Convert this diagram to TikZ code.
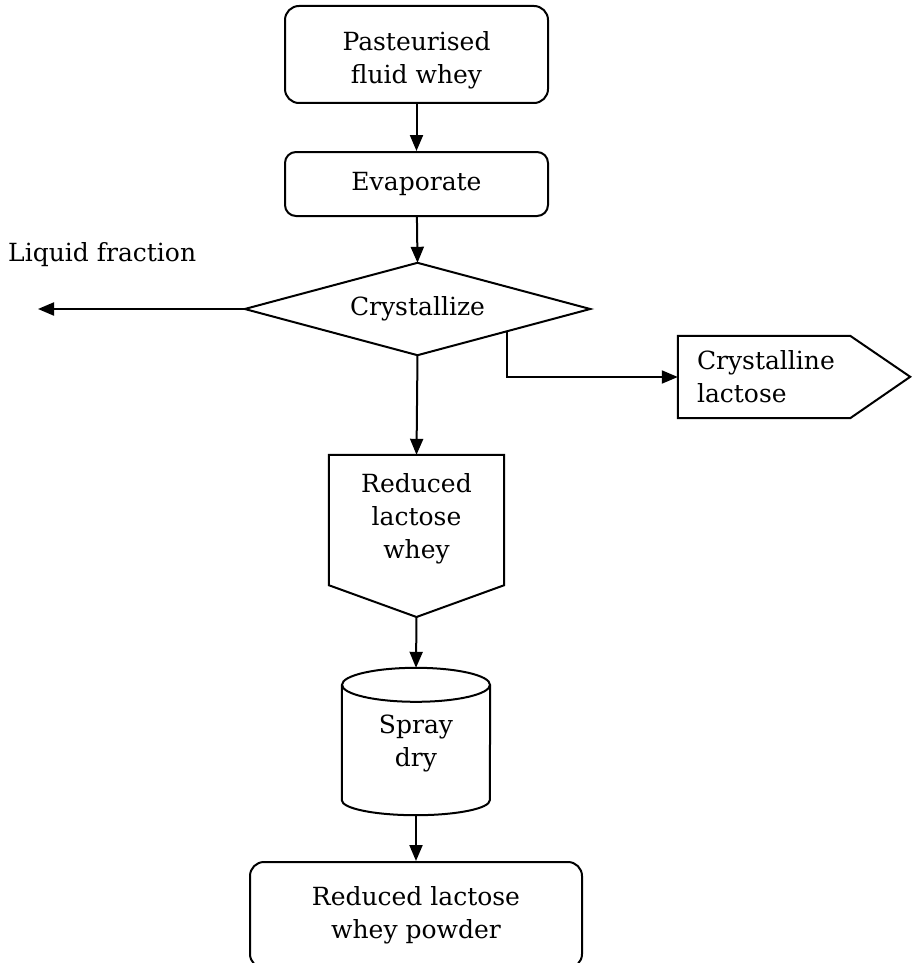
\documentclass[tikz,border=0pt]{standalone}
\usepackage{fontspec}
\setmainfont{DejaVu Serif}
\usetikzlibrary{arrows.meta,calc}
\begin{document}
\begin{tikzpicture}[x=1pt,y=-1pt,
  line/.style={line width=2pt},
  arr/.style={line, -{Triangle[length=16pt,width=13pt]}},
  txt/.style={font=\fontsize{25}{33}\selectfont, align=center},
  procbox/.style={line, draw, rounded corners=14pt, txt, inner sep=0pt},
  slot/.style={draw=none, inner sep=0pt, txt}]
  \useasboundingbox (0,0) rectangle (915,963);
  \clip (0,0) rectangle (915,963);

  % process boxes
  \node[procbox, minimum width=263pt, minimum height=97pt,
        label={[txt, yshift=-6pt]center:Pasteurised\\fluid whey}] (past) at (416.5,54.5) {};
  \node[procbox, rounded corners=11pt, minimum width=263pt, minimum height=64pt] (evap) at (416.5,184) {Evaporate};

  % decision
  \node[slot, minimum width=345pt, minimum height=92pt] (cryst) at (417.5,309) {Crystallize};
  \draw[line] (cryst.north) -- (cryst.east) -- (cryst.south) -- (cryst.west) -- cycle;
  \coordinate (crystout) at ($(cryst.south)!0.52!(cryst.east)$);

  % liquid side stream
  \coordinate (liq) at (38,309);
  \node[txt, anchor=west, inner sep=0pt] (liqlabel) at (8,255) {Liquid fraction};

  % off-page product (points right)
  \node[slot, minimum width=172pt, minimum height=82pt, text width=134pt, align=left] (lact) at (764,377) {Crystalline\\lactose};
  \draw[line] (lact.north west) -- (lact.north east) -- ++(60,41) coordinate (lacttip) -- (lact.south east) -- (lact.south west) -- cycle;

  % off-page product (points down)
  \node[slot, minimum width=175pt, minimum height=128pt] (rlw) at (416.5,519) {Reduced\\lactose\\whey};
  \draw[line] ([yshift=-2pt]rlw.south west) -- (rlw.north west) -- (rlw.north east) -- ([yshift=-2pt]rlw.south east) -- (416.5,617) coordinate (rlwtip) -- cycle;

  % spray dryer drum
  \node[slot, minimum width=148pt, minimum height=113pt] (dry) at (416,743.5) {Spray\\dry};
  \draw[line] ([yshift=2pt]dry.north) ellipse [x radius=74pt, y radius=17pt];
  \draw[line] ([yshift=2pt]dry.north west) -- (dry.south west) arc[start angle=180, end angle=360, x radius=74pt, y radius=15pt] -- ([yshift=2pt]dry.north east);
  \coordinate (drytop) at ([yshift=19pt]dry.north);
  \coordinate (drybot) at ([yshift=-15pt]dry.south);

  % final product
  \node[procbox, minimum width=332pt, minimum height=106pt] (final) at (416,915) {Reduced lactose\\whey powder};

  % flow
  \draw[arr] (past) -- (evap);
  \draw[arr] (evap) -- (cryst.north);
  \draw[arr] (cryst.west) -- (liq);
  \draw[arr] (crystout) |- (lact.west);
  \draw[arr] (cryst.south) -- (rlw.north);
  \draw[arr] (rlwtip) -- (drytop);
  \draw[arr] (drybot) -- (final);
\end{tikzpicture}
\end{document}
